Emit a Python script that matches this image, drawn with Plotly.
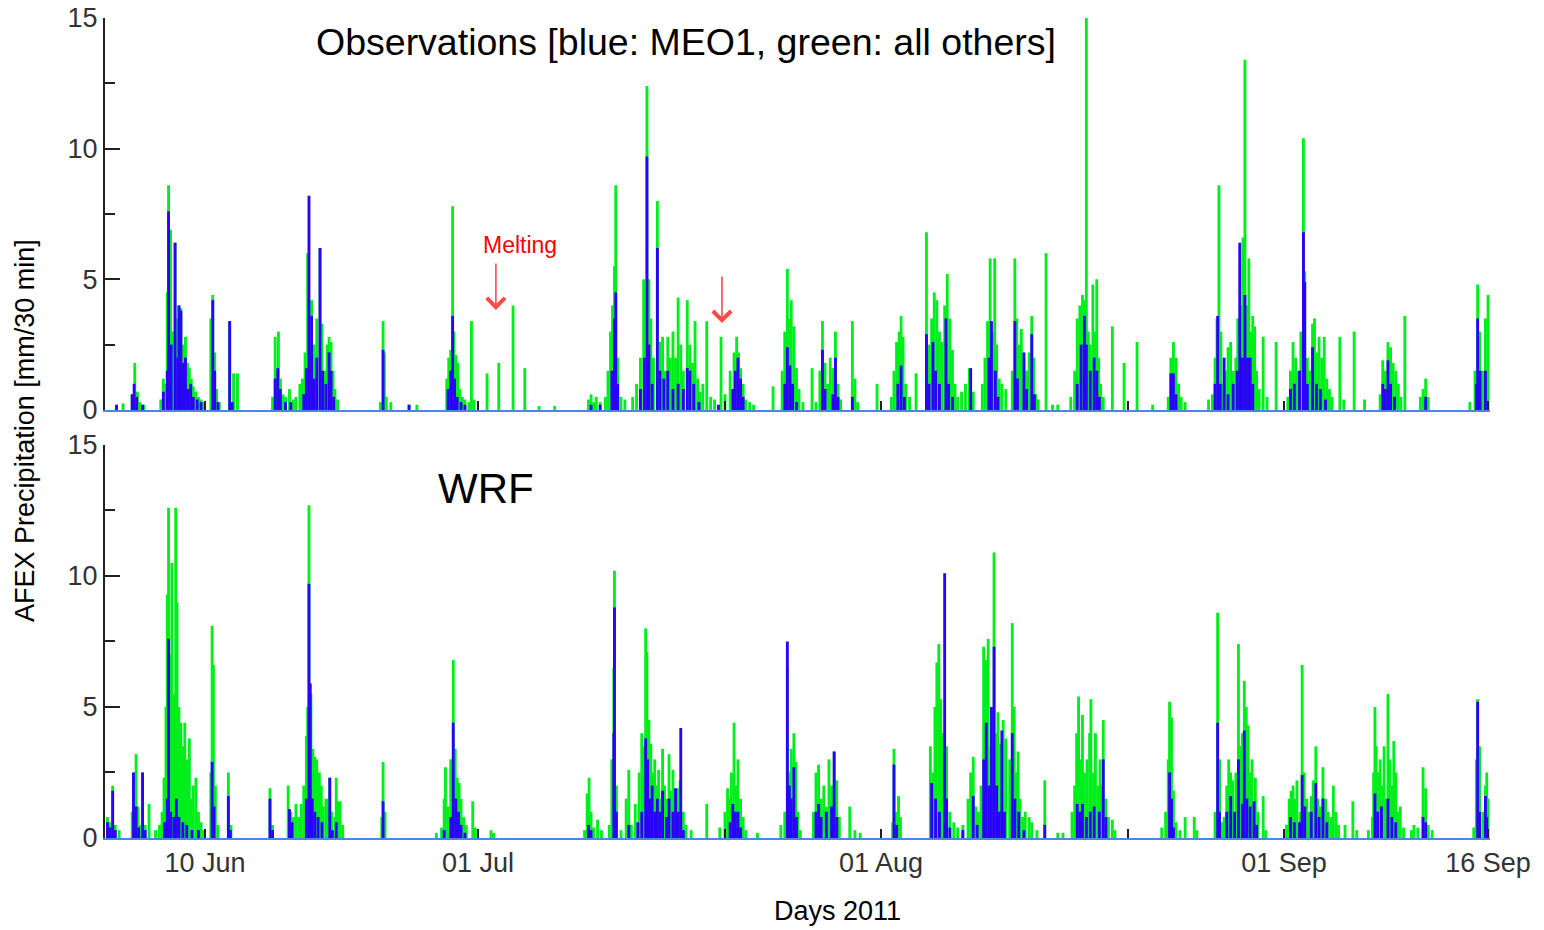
import pandas as pd
import plotly.graph_objects as go

# day numbers: 1 = 1 Jun 2011 00:00 (so 31 = 1 Jul, 62 = 1 Aug, 93 = 1 Sep)
obs_all = [(3.2,0.2),(3.7,0.25),(4.4,0.6),(4.6,1.8),(4.8,0.7),(5.0,0.3),(5.3,0.2),
    (6.6,0.4),(6.8,1.2),(7.0,1.0),(7.1,4.5),(7.2,8.6),(7.35,6.9),(7.5,3.0),(7.7,6.4),(7.85,3.5),(8.0,4.0),(8.15,3.9),(8.3,2.5),(8.5,2.8),(8.65,1.8),(8.8,1.6),(8.95,1.2),(9.1,0.9),(9.3,0.7),(9.5,0.5),(9.7,0.4),(9.9,0.3),
    (10.45,3.5),(10.6,4.4),(10.75,2.2),(10.9,0.8),(11.1,0.3),(11.9,3.4),(12.2,1.4),(12.5,1.4),
    (15.2,0.5),(15.4,2.8),(15.55,1.5),(15.65,3.0),(15.8,1.2),(16.0,0.6),(16.2,0.5),(16.5,0.8),(16.8,0.4),(17.0,0.5),
    (17.3,1.0),(17.5,1.2),(17.7,2.2),(17.9,6.0),(18.2,4.2),(18.4,2.5),(18.6,3.5),(18.85,6.2),(19.0,3.3),(19.2,1.5),(19.4,2.5),(19.55,2.8),(19.7,2.6),(19.85,1.5),(20.0,0.8),(20.2,0.4),
    (23.5,0.3),(23.7,3.4),(23.8,2.2),(23.95,0.5),(24.3,0.3),(25.7,0.2),(26.3,0.2),
    (28.6,1.2),(28.75,2.0),(28.9,2.3),(29.05,7.8),(29.15,3.0),(29.3,2.1),(29.45,1.8),(29.6,0.8),(29.8,0.5),(30.0,0.4),(30.3,0.3),(30.5,3.4),(30.7,0.4),
    (31.7,1.4),(32.6,1.8),(33.7,4.0),(34.6,1.6),(35.7,0.15),(36.9,0.15),
    (39.5,0.4),(39.7,0.6),(39.9,0.3),(40.1,0.5),(40.4,0.3),(40.8,0.5),(41.0,1.5),(41.2,3.0),(41.35,4.0),(41.5,5.5),(41.6,8.6),(41.75,2.0),(42.0,0.5),(42.3,0.4),
    (42.9,0.5),(43.2,1.0),(43.5,2.0),(43.75,5.0),(44.0,12.4),(44.15,5.0),(44.3,3.5),(44.5,2.0),(44.8,8.0),(45.0,2.6),(45.2,2.8),(45.4,1.5),(45.6,2.8),(45.8,2.0),(46.0,3.0),(46.2,2.0),(46.4,4.3),(46.6,2.5),(46.8,1.5),(47.1,4.2),(47.3,2.5),(47.5,1.8),(47.7,3.4),(47.9,1.2),(48.1,0.7),(48.3,1.0),(48.6,3.4),(48.9,0.5),(49.2,0.4),(49.7,2.8),(50.0,0.6),(50.4,1.5),(50.7,2.2),(50.9,2.8),(51.05,2.2),(51.2,1.6),(51.4,1.0),(51.6,0.4),(51.9,0.3),(52.2,0.2),
    (53.7,0.9),(54.4,1.5),(54.6,3.0),(54.8,5.4),(54.95,3.5),(55.1,4.2),(55.3,3.2),(55.5,1.6),(55.7,0.8),(56.0,0.3),(56.7,1.6),(57.0,0.3),(57.3,1.5),(57.5,3.4),(57.7,1.8),(57.9,1.0),(58.1,2.0),(58.3,1.6),(58.5,3.0),(58.7,1.0),(58.9,0.4),(59.8,3.4),(60.0,1.2),(60.2,0.3),(61.7,1.0),
    (62.8,0.5),(63.0,1.5),(63.2,2.6),(63.4,3.0),(63.55,3.6),(63.7,2.8),(63.9,1.0),(64.2,0.5),(64.7,1.4),
    (65.5,6.8),(65.7,2.5),(65.9,3.5),(66.1,4.5),(66.3,4.2),(66.5,3.0),(66.7,2.6),(66.9,4.0),(67.1,5.2),(67.3,3.5),(67.5,2.3),(67.7,1.0),(67.9,0.5),(68.2,0.7),(68.5,1.0),(68.8,1.6),(69.1,0.7),
    (69.8,1.0),(70.0,2.0),(70.2,3.4),(70.4,5.8),(70.6,3.0),(70.75,5.8),(70.9,2.5),(71.1,1.2),(71.3,1.0),(71.6,0.8),
    (72.1,1.5),(72.3,5.8),(72.45,3.5),(72.6,2.5),(72.8,3.1),(73.0,2.0),(73.2,1.5),(73.4,2.2),(73.6,3.6),(73.75,2.0),(73.9,0.6),(74.1,0.4),(74.7,6.0),(75.2,0.2),(75.6,0.2),
    (76.6,0.5),(76.9,1.5),(77.1,3.5),(77.3,4.0),(77.5,4.4),(77.65,4.2),(77.8,15.0),(77.95,3.0),(78.1,2.5),(78.3,4.8),(78.45,3.0),(78.6,5.0),(78.75,2.0),(78.9,1.0),(79.1,0.5),
    (79.8,3.2),(80.7,1.8),(81.7,2.6),(82.9,0.2),
    (84.1,0.5),(84.3,2.0),(84.5,2.6),(84.7,2.0),(84.9,1.0),(85.1,0.5),(85.4,0.3),
    (87.2,0.4),(87.5,0.6),(87.7,2.0),(87.85,3.5),(88.0,8.6),(88.15,3.0),(88.3,1.0),(88.5,1.5),(88.7,2.4),(88.9,2.6),(89.1,1.5),(89.3,2.0),(89.45,3.5),(89.7,4.0),(89.85,6.6),(90.0,13.4),(90.15,4.0),(90.3,5.8),(90.45,3.0),(90.6,3.6),(90.75,3.2),(90.9,1.5),(91.1,0.8),(91.4,2.8),(91.7,0.5),(92.4,2.6),
    (93.3,0.5),(93.5,1.5),(93.7,2.6),(93.9,2.0),(94.1,1.5),(94.3,3.0),(94.5,10.4),(94.6,5.3),(94.8,2.0),(95.0,1.5),(95.2,3.3),(95.35,3.5),(95.5,2.2),(95.7,2.8),(95.9,2.0),(96.1,2.8),(96.3,1.2),(96.5,0.8),(96.7,0.5),(97.3,2.8),(97.6,0.4),(98.4,3.0),(99.2,0.4),
    (100.4,0.6),(100.6,1.9),(100.8,1.5),(101.0,2.6),(101.2,2.4),(101.4,1.8),(101.6,1.5),(101.8,1.0),(102.0,0.5),(102.3,3.6),
    (103.5,0.5),(103.7,0.8),(103.9,1.2),(104.1,0.5),(107.3,0.3),(107.7,1.5),(107.9,4.8),(108.05,3.0),(108.3,1.5),(108.5,3.5),(108.7,4.4)]

obs_meo1 = [(3.2,0.2),(4.4,0.6),(4.55,1.0),(4.75,0.5),(5.2,0.2),
    (6.8,0.7),(7.1,1.5),(7.2,7.6),(7.4,2.5),(7.7,6.4),(7.9,2.0),(8.0,4.0),(8.15,3.8),(8.35,1.8),(8.5,2.0),(8.7,0.8),(8.9,1.0),(9.1,0.5),(9.4,0.4),(9.7,0.3),
    (10.6,4.2),(10.75,1.5),(11.0,0.3),(11.9,3.4),(12.1,0.3),
    (15.4,1.2),(15.6,1.6),(15.8,0.8),(16.2,0.3),(16.6,0.3),
    (17.6,0.6),(17.8,1.6),(18.0,8.2),(18.2,3.6),(18.4,1.2),(18.6,2.0),(18.85,6.2),(19.05,1.5),(19.3,1.0),(19.55,2.2),(19.7,1.5),(19.9,0.5),
    (23.7,2.3),(25.7,0.2),
    (28.7,0.8),(28.9,1.5),(29.05,3.6),(29.2,1.2),(29.4,0.5),(29.7,0.3),(30.0,0.2),
    (39.7,0.2),(40.4,0.2),(41.3,1.5),(41.5,3.5),(41.6,4.5),(41.75,1.0),
    (43.5,0.8),(43.8,2.0),(44.0,9.7),(44.15,2.5),(44.4,1.0),(44.8,6.2),(45.0,1.5),(45.3,1.2),(45.6,1.5),(46.0,0.8),(46.4,1.0),(46.8,0.8),(47.1,1.6),(47.3,1.5),(47.6,1.0),(48.0,0.3),(49.5,0.2),(50.6,0.8),(50.8,1.5),(51.0,2.0),(51.2,1.2),(51.4,0.5),
    (54.6,1.0),(54.8,2.4),(55.0,1.7),(55.2,1.0),(55.5,0.3),(57.5,2.3),(57.7,0.8),(58.3,0.6),(58.5,2.0),(58.7,0.5),(59.8,0.5),
    (63.3,1.0),(63.55,1.7),(63.8,0.5),(65.5,2.9),(65.7,1.0),(66.0,2.6),(66.2,1.5),(66.5,1.0),(67.0,3.5),(67.2,1.0),(67.5,0.5),
    (68.9,1.6),(70.3,2.0),(70.5,3.4),(70.8,1.5),(71.0,0.5),(72.3,3.4),(72.5,1.2),(73.0,2.2),(73.2,0.8),(73.6,2.9),(73.8,0.6),
    (77.1,1.0),(77.4,2.5),(77.65,3.6),(77.8,2.5),(78.1,1.5),(78.4,2.0),(78.6,1.5),(78.8,0.5),
    (84.3,1.4),(84.5,1.4),(84.7,0.6),(87.7,1.0),(87.9,3.6),(88.1,1.0),(88.4,2.0),(88.7,0.6),(89.1,1.0),(89.4,1.5),(89.6,6.4),(89.8,2.0),(90.0,4.4),(90.2,2.0),(90.4,2.0),(90.6,1.0),
    (93.5,0.8),(93.8,1.0),(94.2,1.5),(94.5,6.8),(94.6,4.9),(94.8,1.0),(95.2,2.4),(95.5,1.0),(95.8,0.8),(96.2,0.4),
    (100.6,1.0),(100.8,0.8),(101.0,1.9),(101.2,1.0),(101.5,0.5),(103.9,0.5),(107.8,1.0),(107.9,3.5),(108.1,1.5),(108.5,1.5)]

wrf_all = [(2.5,0.8),(2.7,0.6),(2.9,2.0),(3.1,0.5),(3.4,0.3),(4.4,1.0),(4.55,2.5),(4.7,3.2),(4.85,1.2),(5.0,0.5),(5.2,2.5),(5.4,0.5),(5.7,1.3),(6.2,0.3),
    (6.5,0.5),(6.7,1.0),(6.85,2.3),(7.0,5.0),(7.1,9.3),(7.2,12.6),(7.3,7.0),(7.45,10.5),(7.6,5.5),(7.75,12.6),(7.85,9.0),(8.0,5.0),(8.15,4.4),(8.3,3.5),(8.45,4.4),(8.6,3.0),(8.8,3.8),(8.95,1.5),(9.1,2.0),(9.3,2.3),(9.5,1.0),(9.7,0.6),(9.9,0.3),
    (10.45,2.5),(10.55,8.1),(10.65,6.6),(10.8,2.0),(11.0,0.5),(11.8,2.5),(12.0,0.5),
    (15.0,1.9),(15.2,0.5),(16.4,2.0),(16.6,1.0),(16.8,0.8),(17.0,1.3),(17.2,0.8),(17.4,1.3),(17.6,2.0),(17.8,3.9),(17.9,5.0),(18.0,12.7),(18.15,5.5),(18.3,3.4),(18.45,3.1),(18.6,3.0),(18.8,2.5),(18.95,2.0),(19.1,1.2),(19.3,1.5),(19.45,1.5),(19.6,2.3),(19.75,1.0),(20.0,0.8),(20.1,2.3),(20.25,1.4),(20.4,1.4),(20.6,0.5),
    (23.6,0.8),(23.7,2.9),(23.85,1.0),
    (27.8,0.2),(28.2,0.4),(28.4,1.5),(28.5,2.7),(28.7,1.2),(28.9,3.0),(29.1,6.8),(29.25,3.4),(29.4,2.3),(29.55,2.1),(29.7,1.5),(29.9,0.8),(30.1,0.5),(30.6,1.4),(30.8,0.4),(32.0,0.3),(32.2,0.2),
    (39.2,0.3),(39.4,1.7),(39.55,2.3),(39.7,1.0),(39.9,0.4),(40.2,0.7),(40.5,0.3),(41.1,0.5),(41.3,3.0),(41.45,6.5),(41.5,10.2),(41.65,2.0),(42.0,0.3),(42.4,1.5),(42.6,2.6),(42.8,0.5),
    (43.1,1.3),(43.4,2.5),(43.6,4.0),(43.75,3.5),(43.9,8.0),(44.0,7.1),(44.15,4.5),(44.3,3.6),(44.45,2.5),(44.6,3.0),(44.75,2.0),(44.9,2.6),(45.05,1.5),(45.2,3.4),(45.35,2.0),(45.5,1.5),(45.7,3.2),(45.85,1.8),(46.0,2.6),(46.2,1.5),(46.4,1.9),(46.55,2.2),(46.8,1.0),(47.0,0.5),(47.4,0.3),(48.6,1.3),(49.6,0.4),
    (50.0,1.0),(50.2,1.9),(50.35,1.5),(50.5,2.5),(50.7,4.4),(50.85,2.0),(51.0,3.0),(51.2,1.5),(51.4,0.8),(51.6,0.3),(52.5,0.2),
    (54.3,0.5),(54.6,1.0),(54.8,6.5),(54.95,2.5),(55.1,3.4),(55.3,4.0),(55.45,2.9),(55.6,1.0),(55.8,0.3),(56.8,1.0),(57.0,2.5),(57.2,2.8),(57.4,1.5),(57.6,2.0),(57.8,1.2),(58.0,3.0),(58.2,2.0),(58.4,3.3),(58.6,2.2),(58.8,0.8),(59.6,1.2),(60.0,0.3),(60.4,0.2),
    (62.9,0.6),(63.0,3.4),(63.15,1.0),(63.35,1.6),(63.5,0.8),
    (65.8,3.5),(66.0,2.5),(66.15,5.0),(66.3,6.7),(66.45,7.4),(66.6,5.3),(66.75,4.0),(66.9,3.0),(67.05,3.5),(67.3,1.0),(67.6,0.6),(67.9,0.4),(68.3,0.5),(68.7,1.5),(68.9,2.5),(69.1,3.1),(69.3,1.2),(69.5,1.0),
    (69.7,2.0),(69.9,7.3),(70.1,6.8),(70.25,7.6),(70.45,3.5),(70.7,10.9),(70.85,4.0),(71.0,4.8),(71.2,3.6),(71.4,4.5),(71.6,3.8),(71.9,3.0),(72.1,8.2),(72.25,5.0),(72.4,2.5),(72.55,3.3),(72.7,1.5),(72.9,0.8),(73.1,1.0),(73.4,0.8),(73.6,0.6),(74.0,0.3),(74.6,2.2),(75.6,0.2),(76.0,0.2),
    (76.7,1.0),(76.9,2.0),(77.05,4.0),(77.2,5.4),(77.35,3.0),(77.5,4.7),(77.65,2.5),(77.85,3.0),(78.05,4.0),(78.15,5.3),(78.35,2.5),(78.5,4.0),(78.7,2.0),(78.85,3.0),(79.0,2.0),(79.1,4.5),(79.3,1.5),(79.5,0.8),(79.8,0.7),(80.0,0.3),
    (83.6,0.4),(83.9,1.0),(84.1,3.0),(84.2,5.2),(84.35,4.6),(84.5,1.8),(84.7,0.6),(85.0,0.3),(85.4,0.8),(86.1,0.8),(86.3,0.3),
    (87.7,1.0),(87.9,8.6),(88.05,3.0),(88.2,0.6),(88.4,0.8),(88.6,2.0),(88.75,3.0),(88.9,2.5),(89.05,2.2),(89.3,2.5),(89.5,7.4),(89.65,3.5),(89.8,4.0),(89.95,6.0),(90.1,5.0),(90.25,4.3),(90.4,2.5),(90.55,3.0),(90.8,2.3),(91.0,1.0),(91.4,1.6),(91.6,0.3),
    (93.2,0.5),(93.4,1.5),(93.55,1.8),(93.7,2.0),(93.85,1.5),(94.0,2.2),(94.25,1.0),(94.4,6.6),(94.55,2.5),(94.75,1.5),(94.9,1.0),(95.1,1.6),(95.25,2.2),(95.45,3.5),(95.6,1.5),(95.8,1.2),(96.0,2.7),(96.2,1.5),(96.4,1.0),(96.6,0.8),(96.8,2.0),(97.0,1.0),(97.2,0.5),(97.7,0.5),(98.3,1.4),(98.6,0.3),
    (99.5,0.3),(99.8,0.8),(99.9,2.5),(100.0,5.0),(100.1,3.5),(100.25,2.5),(100.4,3.0),(100.55,2.0),(100.7,3.5),(100.85,1.5),(101.0,5.5),(101.15,3.0),(101.3,2.0),(101.45,3.7),(101.6,2.5),(101.75,1.0),(101.95,1.2),(102.2,0.4),
    (102.8,0.3),(103.0,0.5),(103.3,0.4),(103.7,2.7),(103.9,1.9),(104.1,0.5),(104.4,0.3),
    (107.6,0.4),(107.8,3.0),(107.9,5.3),(108.05,3.5),(108.3,1.0),(108.5,2.0),(108.6,2.5),(108.7,1.5)]

wrf_meo1 = [(2.5,0.6),(2.7,0.4),(2.9,1.8),(3.1,0.3),(4.5,2.5),(4.7,1.2),(4.9,0.4),(5.2,2.5),(5.4,0.3),
    (6.9,0.6),(7.1,1.5),(7.2,7.6),(7.35,1.0),(7.6,0.8),(7.8,1.5),(8.0,0.8),(8.3,0.6),(8.6,0.5),(9.0,0.3),(9.5,0.3),(10.55,2.9),(10.7,1.2),(11.8,1.6),(11.95,0.3),
    (15.0,1.5),(15.2,0.3),(16.5,1.1),(16.7,0.6),(17.8,1.5),(18.0,9.7),(18.1,5.9),(18.25,1.5),(18.45,1.0),(18.7,0.8),(19.0,0.6),(19.6,2.3),(19.8,0.3),(20.1,0.6),
    (23.7,1.4),(28.4,0.3),(28.9,0.8),(29.1,4.4),(29.3,1.5),(29.5,1.0),(29.7,0.5),(30.0,0.2),
    (39.5,0.5),(39.7,0.3),(41.45,4.0),(41.5,8.8),(41.65,1.0),(42.6,0.5),
    (43.3,0.6),(43.6,1.0),(43.9,3.8),(44.05,3.0),(44.2,1.5),(44.4,2.0),(44.6,1.0),(44.8,1.5),(45.0,1.0),(45.2,1.8),(45.5,0.8),(45.7,1.5),(46.0,1.0),(46.2,1.9),(46.4,1.0),(46.6,4.2),(46.8,0.3),
    (50.4,0.6),(50.6,1.3),(50.8,1.0),(51.0,1.0),(51.2,0.4),
    (54.8,7.5),(54.95,2.0),(55.1,1.5),(55.3,2.7),(55.5,0.8),(57.0,1.0),(57.2,1.3),(57.4,0.8),(57.8,1.0),(58.2,1.2),(58.4,3.3),(58.6,0.8),
    (63.0,2.8),(63.2,0.5),(65.9,2.1),(66.2,1.5),(66.5,1.0),(66.9,10.1),(67.05,1.5),(67.3,0.4),(68.3,0.3),(69.1,1.6),(69.4,0.5),
    (69.9,3.0),(70.1,4.4),(70.3,2.0),(70.5,5.0),(70.7,7.3),(70.9,2.0),(71.1,1.0),(71.3,4.1),(71.5,1.0),(72.1,4.0),(72.3,1.5),(72.6,1.0),(73.0,0.3),(74.6,0.5),
    (77.1,1.3),(77.3,1.0),(77.5,1.3),(77.8,0.8),(78.1,1.0),(78.4,1.2),(78.8,1.0),(79.1,3.0),(79.3,0.8),
    (84.2,2.5),(84.35,1.5),(84.5,0.4),(87.9,4.4),(88.05,1.0),(88.6,1.0),(88.9,1.6),(89.2,1.0),(89.5,3.0),(89.8,1.3),(89.95,4.1),(90.15,1.5),(90.4,1.2),(90.7,1.4),(90.9,0.5),
    (93.5,0.8),(93.8,0.6),(94.2,0.6),(94.4,2.4),(94.6,1.2),(95.1,1.0),(95.45,2.1),(95.7,0.8),(96.0,1.5),(96.3,0.6),
    (100.0,1.7),(100.2,1.0),(100.5,1.2),(101.0,1.5),(101.3,0.8),(101.6,0.6),(103.7,0.8),(103.9,0.6),(107.9,5.2),(108.05,1.0),(108.5,1.6),(108.6,0.8)]

tick_days = [10, 31, 50, 62, 81, 93, 108.7]
tick_text = ["10 Jun", "01 Jul", "", "01 Aug", "", "01 Sep", "16 Sep"]

BASE = pd.Timestamp("2011-05-31")
def to_dt(days):
    return [BASE + pd.Timedelta(days=d) for d in days]

GREEN = "#00ef1c"
BLUE = "#2b00ff"
BAR_W = 0.22 * 86400000  # ms

fig = go.Figure()
def add(series, color, yaxis, xaxis):
    d = [p[0] for p in series]
    v = [p[1] for p in series]
    fig.add_trace(go.Bar(x=to_dt(d), y=v, width=BAR_W, marker=dict(color=color, line=dict(width=0)),
                         xaxis=xaxis, yaxis=yaxis, showlegend=False))

add(obs_all, GREEN, "y", "x")
add(obs_meo1, BLUE, "y", "x")
add(wrf_all, GREEN, "y2", "x2")
add(wrf_meo1, BLUE, "y2", "x2")

xr = [BASE + pd.Timedelta(days=2.31), BASE + pd.Timedelta(days=108.85)]
tickvals = to_dt(tick_days)
FONT = "Liberation Sans, Arial, sans-serif"
common_x = dict(type="date", range=xr, showgrid=False, zeroline=False, automargin=False,
                showline=True, linecolor="#4a86e8", linewidth=2,
                ticks="inside", ticklen=9, tickwidth=2, tickcolor="#222",
                tickvals=tickvals, ticktext=tick_text,
                tickfont=dict(family=FONT, size=27, color="#333"))
common_y = dict(range=[0, 15], tickvals=[0, 5, 10, 15], showgrid=False, zeroline=False, automargin=False,
                showline=True, linecolor="#222", linewidth=2,
                ticks="inside", ticklen=15, tickwidth=2, tickcolor="#222",
                minor=dict(dtick=2.5, tick0=0, ticks="inside", ticklen=10, tickwidth=2, tickcolor="#222"),
                tickfont=dict(family=FONT, size=27, color="#333"), fixedrange=True)

fig.update_layout(
    width=1544, height=930,
    margin=dict(l=105, r=54, t=18, b=92),
    paper_bgcolor="white", plot_bgcolor="white",
    barmode="overlay",
    xaxis=dict(common_x, domain=[0, 1], anchor="y", showticklabels=False),
    yaxis=dict(common_y, domain=[0.522, 1.0], anchor="x"),
    xaxis2=dict(common_x, domain=[0, 1], anchor="y2", showticklabels=True, ticklabelstandoff=0),
    yaxis2=dict(common_y, domain=[0.0, 0.4793], anchor="x2"),
    font=dict(family=FONT),
)

anns = [
    dict(text="Observations [blue: MEO1, green: all others]", xref="paper", yref="paper",
         x=0.4195, y=0.9707, xanchor="center", yanchor="middle", showarrow=False,
         font=dict(size=37.5, color="black")),
    dict(text="WRF", xref="paper", yref="paper", x=0.275, y=0.4268, xanchor="center", yanchor="middle",
         showarrow=False, font=dict(size=42, color="black")),
    dict(text="AFEX Precipitation [mm/30 min]", xref="paper", yref="paper", x=-0.0578, y=0.4976,
         xanchor="center", yanchor="middle", textangle=-90, showarrow=False,
         font=dict(size=27, color="black")),
    dict(text="Days 2011", xref="paper", yref="paper", x=0.529, y=-0.089, xanchor="center", yanchor="middle",
         showarrow=False, font=dict(size=27, color="black")),
    dict(text="Melting", xref="x", yref="y", x=BASE + pd.Timedelta(days=34.2), y=6.3,
         xanchor="center", yanchor="middle", showarrow=False, font=dict(size=23, color="red")),
    dict(text="", xref="x", yref="y", x=BASE + pd.Timedelta(days=32.38), y=3.83,
         showarrow=True, ax=0, ay=-48, arrowhead=4, arrowsize=2.2, arrowwidth=1.6, arrowcolor="#ff4a4a"),
    dict(text="", xref="x", yref="y", x=BASE + pd.Timedelta(days=49.77), y=3.33,
         showarrow=True, ax=0, ay=-48, arrowhead=4, arrowsize=2.2, arrowwidth=1.6, arrowcolor="#ff4a4a"),
]
fig.update_layout(annotations=anns)
fig.write_html("out.html")
